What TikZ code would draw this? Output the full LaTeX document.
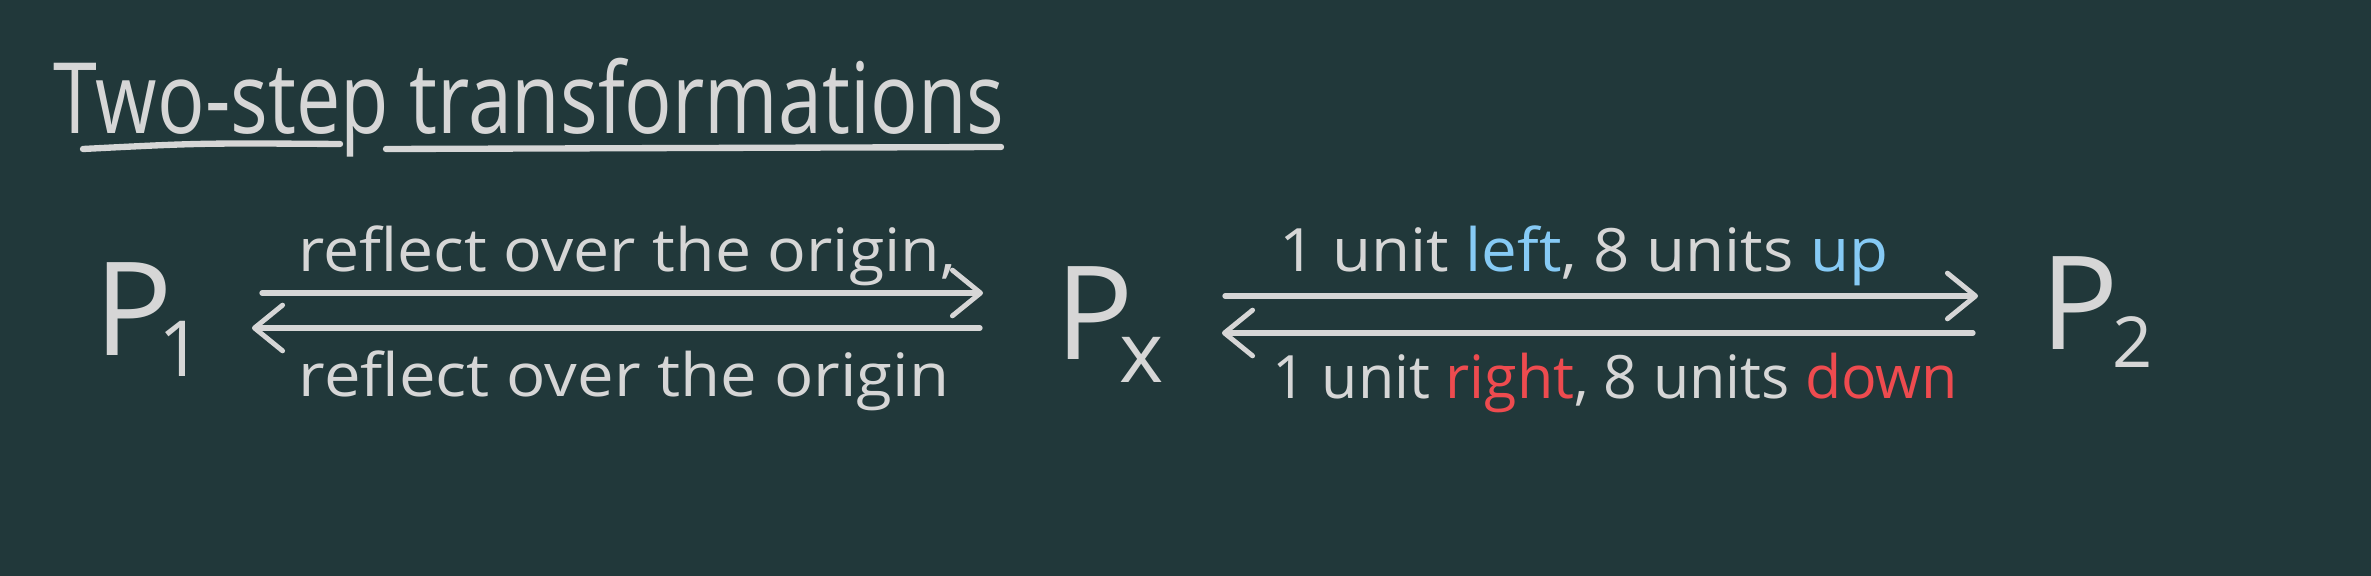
\documentclass[tikz,border=0pt]{standalone}
\usepackage{fontspec}
\setmainfont{Open Sans}
\usetikzlibrary{arrows.meta}
\definecolor{bg}{HTML}{21383A}
\definecolor{ink}{HTML}{D6D6D6}
\definecolor{blu}{HTML}{86CAF5}
\definecolor{rd}{HTML}{EE4B4F}
\newcommand{\fitw}[2]{\resizebox{#1}{\height}{#2}}
\tikzset{
  lbl/.style={anchor=base west, inner sep=0pt, text=ink, font=\fontsize{17}{20}\selectfont},
  pt/.style={anchor=north west, inner sep=0pt, text=ink, font=\fontsize{37}{40}\selectfont},
  arr/.style={draw=ink, line width=1.5pt, line cap=round,
    -{Straight Barb[length=8pt,width=13pt,line width=1.4pt,round]}},
  uline/.style={draw=ink, line width=1.8pt, line cap=round}
}
\begin{document}
\begin{tikzpicture}[x=0.01cm,y=-0.01cm]
\fill[bg] (0,0) rectangle (2371,576);
\useasboundingbox (0,0) rectangle (2371,576);
% title
\node[anchor=base west, inner sep=0pt, text=ink, font=\fontsize{28}{32}\selectfont] (title) at (53,134) {\fitw{9.5cm}{Two-step transformations}};
\draw[uline] (83,149) .. controls (200,143) .. (340,144);
\draw[uline] (386,149) -- (1001,147);
% points
\node[pt] (p1) at (94,262) {P\kern-4pt\raisebox{-6pt}{\fontsize{22}{22}\selectfont 1}};
\node[pt] (px) at (1055,266) {P\kern-4pt\raisebox{-6.5pt}{\fontsize{24}{24}\selectfont x}};
\node[pt] (p2) at (2040,256) {P\kern-2pt\raisebox{-5pt}{\fontsize{20}{20}\selectfont 2}};
% arrow ends
\coordinate (a1s) at (262,293);
\coordinate (a1e) at (983,293);
\coordinate (b1s) at (980,328);
\coordinate (b1e) at (252,328);
\coordinate (a2s) at (1225,296);
\coordinate (a2e) at (1978,296);
\coordinate (b2s) at (1973,333);
\coordinate (b2e) at (1222,333);
\draw[arr] (a1s) -- (a1e);
\draw[arr] (b1s) -- (b1e);
\draw[arr] (a2s) -- (a2e);
\draw[arr] (b2s) -- (b2e);
% labels
\node[lbl] (l1) at (298,272) {\fitw{6.57cm}{reflect over the origin,}};
\node[lbl] (l2) at (298,397) {\fitw{6.5cm}{reflect over the origin}};
\node[lbl] (l3) at (1279,272) {\fitw{6.08cm}{1 unit \textcolor{blu}{left}, 8 units \textcolor{blu}{up}}};
\node[lbl] (l4) at (1272,399) {\fitw{6.85cm}{1 unit \textcolor{rd}{right}, 8 units \textcolor{rd}{down}}};
\end{tikzpicture}
\end{document}
